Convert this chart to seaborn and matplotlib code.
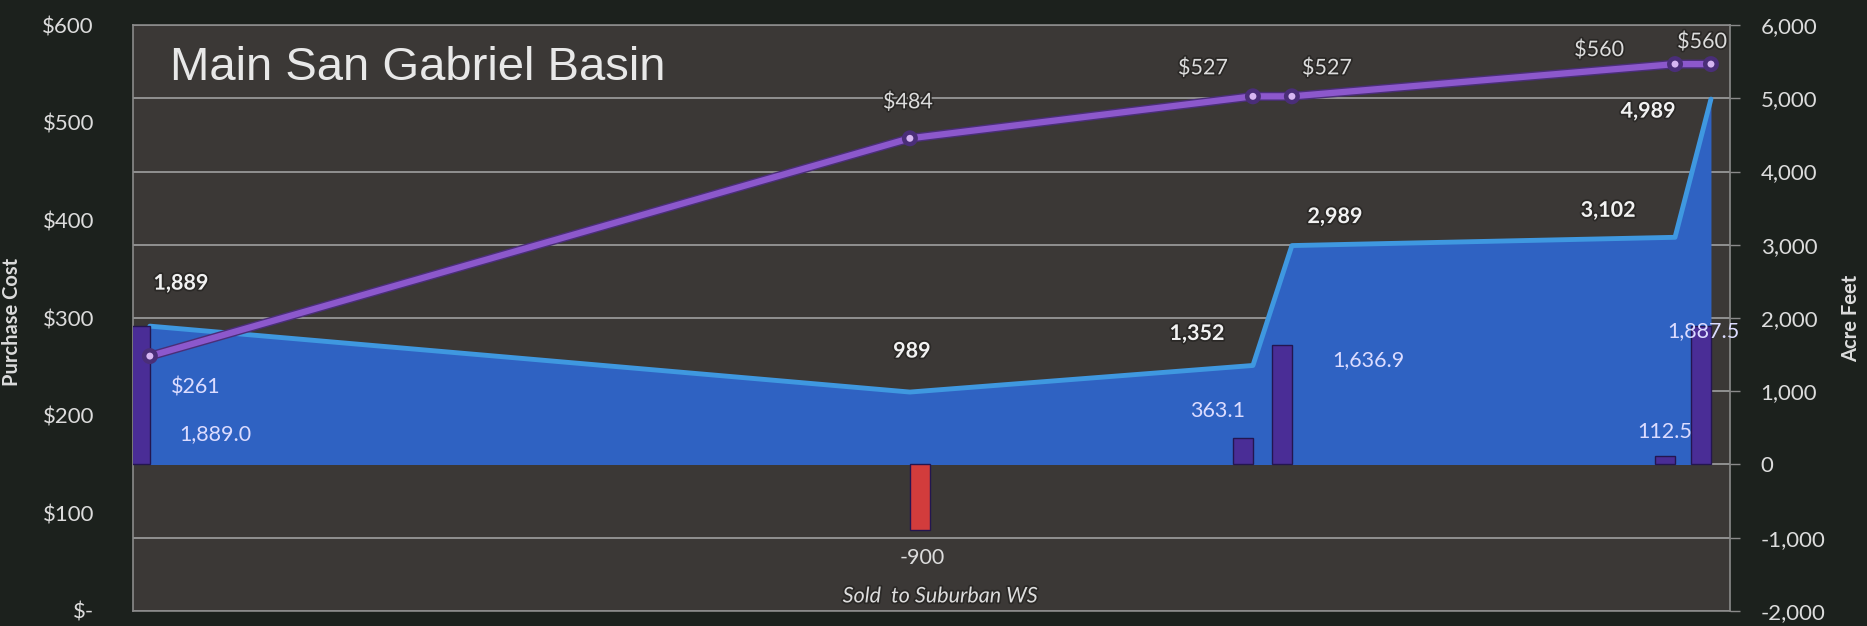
import numpy as np
import pandas as pd
import matplotlib
matplotlib.use("Agg")
import matplotlib.pyplot as plt
import matplotlib.patheffects as pe
import seaborn as sns

# ============================================================
# 1. Data
# ============================================================
# position of each transaction along the (unlabelled) time axis, 0-100 scale
event_pos = [1.06, 48.65, 70.13, 72.57, 96.56, 98.81]
# purchase cost, $ per acre-foot (left axis)
purchase_cost = [261, 484, 527, 527, 560, 560]
# cumulative acre-feet held (area, right axis)
cumulative_af = [1889, 989, 1352, 2989, 3102, 4989]
# acre-feet bought (+) or sold (-) in each transaction (bars, right axis)
transfer_af = [1889.0, -900.0, 363.1, 1636.9, 112.5, 1887.5]

cost_labels = ["$261", "$484", "$527", "$527", "$560", "$560"]
cum_labels = ["1,889", "989", "1,352", "2,989", "3,102", "4,989"]
transfer_labels = ["1,889.0", "-900", "363.1", "1,636.9", "112.5", "1,887.5"]

cost_ticks = [0, 100, 200, 300, 400, 500, 600]
cost_tick_labels = ["$-", "$100", "$200", "$300", "$400", "$500", "$600"]
af_ticks = [-2000, -1000, 0, 1000, 2000, 3000, 4000, 5000, 6000]
af_tick_labels = ["-2,000", "-1,000", "0", "1,000", "2,000", "3,000",
                  "4,000", "5,000", "6,000"]

df = pd.DataFrame({
    "pos": event_pos,
    "cost": purchase_cost,
    "cum": cumulative_af,
    "transfer": transfer_af,
})

# ============================================================
# 2. Label placement (pixel offsets from each data point)
# ============================================================
cost_label_off = [(46, -31), (-2, 36), (-50, 28), (35, 28), (-76, 14), (-9, 22)]
cum_label_off = [(31, 43), (2, 41), (-56, 32), (43, 29), (-67, 27), (-63, -12)]
transfer_label_off = [(66, -108), (12, -28), (-35, 27), (77, -15), (-10, 24), (-8, -5)]

# ============================================================
# 3. Style
# ============================================================
FIG_BG = "#1c211d"
PLOT_BG = "#3b3836"
AREA_BLUE = "#2f62c2"
EDGE_BLUE = "#3f98e0"
LINE_PURPLE = "#8c58cc"
BAR_PURPLE = "#4a2d96"
BAR_RED = "#d23c3c"
TEXT = "#dcdcdc"
LAVENDER = "#dcdcff"
BAR_W = 1.25
halo = [pe.withStroke(linewidth=2.5, foreground="#2a2826")]

sns.set_theme(style="dark")
plt.rcParams["font.family"] = ["Lato", "DejaVu Sans"]

fig, ax = plt.subplots(figsize=(18.67, 6.26), dpi=100)
fig.patch.set_facecolor(FIG_BG)
fig.subplots_adjust(left=0.0712, right=0.9266, bottom=0.024, top=0.960)
ax.set_facecolor(PLOT_BG)
ax2 = ax.twinx()

# ============================================================
# 4. Acre-feet: area + bars (primary axis, ticks on the right)
# ============================================================
ax.fill_between(df["pos"], 0, df["cum"], color=AREA_BLUE, lw=0, zorder=2)
sns.lineplot(data=df, x="pos", y="cum", ax=ax, color=EDGE_BLUE, lw=3.5, zorder=3)

bar_w = [-BAR_W if v > 0 else BAR_W for v in df["transfer"]]
bar_c = [BAR_PURPLE if v > 0 else BAR_RED for v in df["transfer"]]
ax.bar(df["pos"], df["transfer"], width=bar_w, align="edge", color=bar_c,
       edgecolor="#241650", linewidth=1.0, zorder=4)

ax.set_xlim(0, 100)
ax.set_ylim(-2000, 6000)
ax.set_xticks([])
ax.set_yticks(af_ticks)
ax.set_yticklabels(af_tick_labels)
ax.yaxis.tick_right()
ax.yaxis.set_label_position("right")
ax.set_ylabel("Acre Feet", fontsize=14.5, fontweight="bold", color=TEXT)
ax.yaxis.set_label_coords(1.0695, 0.5)
ax.set_xlabel("")
ax.tick_params(axis="y", colors=TEXT, labelsize=16, pad=15, right=True,
               length=7, width=1, color="#8a8a8a")
ax.set_axisbelow(True)
ax.yaxis.grid(True, color="#989898", lw=1.3)
ax.xaxis.grid(False)
for s in ax.spines.values():
    s.set_visible(True)
    s.set_color("#8a8a8a")
    s.set_linewidth(1.2)

for i, row in df.iterrows():
    ax.annotate(cum_labels[i], (row["pos"], row["cum"]), xytext=cum_label_off[i],
                textcoords="offset pixels", ha="center", va="center",
                fontsize=15.5, fontweight="bold", color="#f2f2f2", zorder=6,
                path_effects=halo)
    ax.annotate(transfer_labels[i], (row["pos"], row["transfer"]),
                xytext=transfer_label_off[i], textcoords="offset pixels",
                ha="center", va="center", fontsize=15.5,
                color=LAVENDER if row["transfer"] > 0 else TEXT, zorder=6)

ax.annotate("Sold  to Suburban WS", (df["pos"][1], df["transfer"][1]),
            xytext=(30, -66), textcoords="offset pixels", ha="center",
            va="center", fontsize=15.5, style="italic", color=TEXT,
            path_effects=halo)

# ============================================================
# 5. Purchase cost line (twin axis, ticks on the left)
# ============================================================
sns.lineplot(data=df, x="pos", y="cost", ax=ax2, color=LINE_PURPLE, lw=4.5,
             marker="o", markersize=5, markerfacecolor="#d6b6f2",
             markeredgewidth=0, zorder=5,
             path_effects=[pe.Stroke(linewidth=6.5, foreground="#4a2e78"), pe.Normal()])
ax2.set_ylim(0, 600)
ax2.set_yticks(cost_ticks)
ax2.set_yticklabels(cost_tick_labels)
ax2.yaxis.tick_left()
ax2.yaxis.set_label_position("left")
ax2.set_ylabel("Purchase Cost", fontsize=14.5, fontweight="bold", color=TEXT)
ax2.yaxis.set_label_coords(-0.0695, 0.493)
ax2.set_xlabel("")
ax2.tick_params(axis="y", colors=TEXT, labelsize=16, pad=22, left=False, right=False)
ax2.grid(False)
for s in ax2.spines.values():
    s.set_visible(False)

for i, row in df.iterrows():
    ax2.annotate(cost_labels[i], (row["pos"], row["cost"]), xytext=cost_label_off[i],
                 textcoords="offset pixels", ha="center", va="center",
                 fontsize=15.5, color=LAVENDER if i == 0 else TEXT, zorder=6,
                 path_effects=None if i == 0 else halo)

ax2.text(0.023, 0.906, "Main San Gabriel Basin", transform=ax2.transAxes,
         fontsize=34, family=["Liberation Sans", "DejaVu Sans"], color="#e8e8e8",
         va="baseline", ha="left")

plt.savefig("out.png", dpi=100, facecolor=FIG_BG)
